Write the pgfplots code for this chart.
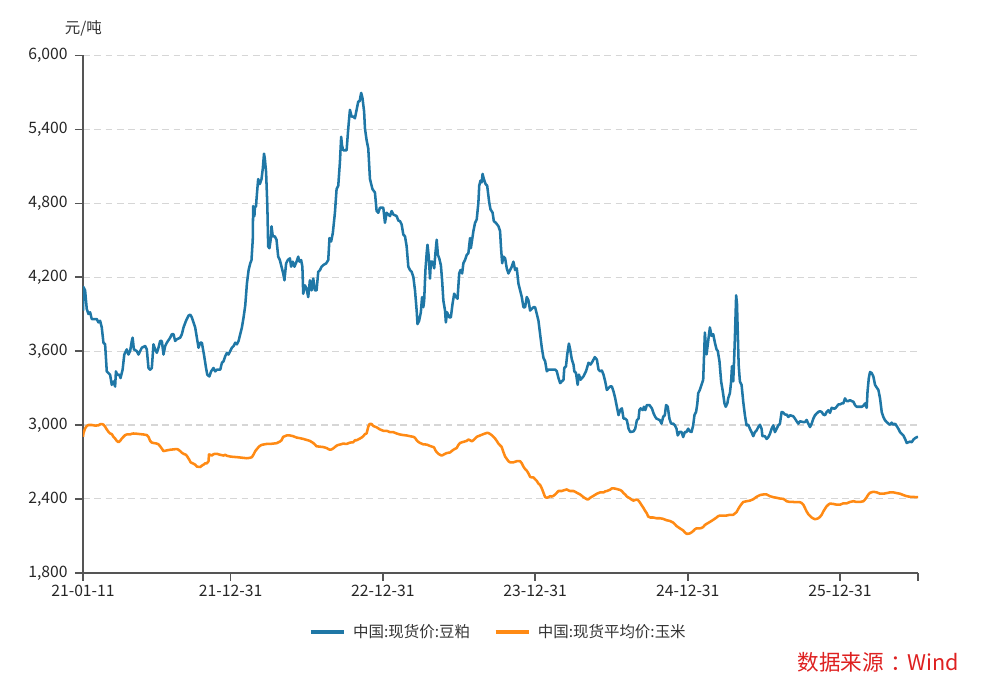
\documentclass[border=0pt]{standalone}
\usepackage{fontspec}
\setmainfont{Noto Sans CJK SC}
\usepackage{pgfplots}
\pgfplotsset{compat=1.18}
\definecolor{bluel}{HTML}{1F77A6}
\definecolor{orangel}{HTML}{FF8A14}
\definecolor{axgray}{HTML}{555555}
\definecolor{srcred}{HTML}{DE2020}
\begin{document}
\begin{tikzpicture}
\path[use as bounding box] (0,0) rectangle (750pt,519.75pt);
\begin{axis}[
 at={(62.25pt,90.15pt)}, anchor=south west,
 scale only axis, width=626.25pt, height=388pt,
 xmin=0, xmax=2002, ymin=1800, ymax=6000,
 axis x line*=bottom, axis y line*=left,
 axis line style={-, draw=axgray, line width=1.1pt},
 xtick={0,354,719,1084,1450,1815,2002},
 xticklabels={21-01-11,21-12-31,22-12-31,23-12-31,24-12-31,25-12-31,{}},
 ytick={1800,2400,...,6000},
 tick align=outside, major tick length=6pt,
 tick style={draw=axgray, line width=1.1pt},
 ymajorgrids,
 grid style={draw=black!16, line width=0.8pt, dash pattern=on 5pt off 3.5pt},
 /pgf/number format/fixed,
 /pgf/number format/1000 sep={,},
 /pgf/number format/assume math mode=true,
 ticklabel style={font=\fontsize{11.8}{13}\selectfont, text=black!85},
 yticklabel style={xshift=-2pt},
 legend style={at={(0.498,-0.1144)}, anchor=center, draw=none, fill=none,
   legend columns=2, font=\fontsize{11.6}{13}\selectfont, text=black!80,
   /tikz/every odd column/.append style={column sep=3.5pt},
   /tikz/every even column/.append style={column sep=16pt}},
 legend image code/.code={\draw[#1, line width=2.4pt] (0pt,0pt) -- (25pt,0pt);},
]
\addplot[bluel, line width=1.9pt, line join=round] coordinates {
(0,3929)(1,4120)(5,4093)(9,3942)(13,3901)(17,3915)(21,3860)(33,3860)(37,3833)(41,3846)(45,3792)(49,3668)(53,3655)(57,3435)(61,3422)(65,3408)(69,3326)(73,3353)(77,3312)(79,3435)(82,3408)(87,3408)(90,3381)(95,3449)(99,3572)(105,3614)(109,3572)(113,3600)(117,3682)(119,3709)(122,3614)(129,3600)(133,3572)(137,3600)(141,3627)(149,3641)(153,3614)(157,3463)(161,3449)(165,3463)(169,3655)(173,3614)(177,3586)(181,3627)(185,3682)(189,3682)(193,3572)(197,3641)(201,3668)(209,3709)(213,3737)(217,3737)(221,3682)(225,3696)(233,3709)(237,3737)(241,3792)(247,3846)(253,3888)(257,3896)(261,3874)(265,3833)(269,3792)(273,3709)(277,3627)(281,3668)(285,3668)(290,3572)(295,3463)(298,3408)(303,3394)(307,3435)(313,3463)(317,3435)(321,3449)(329,3449)(333,3504)(337,3518)(341,3559)(345,3586)(349,3572)(353,3600)(357,3627)(361,3641)(365,3668)(369,3655)(373,3682)
(377,3737)(381,3792)(385,3874)(389,3970)(393,4148)(397,4257)(401,4312)
(404,4339)(407,4504)(408,4778)(411,4696)(412,4764)(415,4778)(416,4833)(420,4997)(424,4956)(428,4997)(431,5079)(434,5203)(436,5161)(439,5052)(442,4778)(444,4449)(447,4435)(450,4504)(452,4613)(455,4531)(460,4531)(464,4504)(468,4367)(472,4339)(476,4285)(480,4230)(483,4175)(487,4312)(491,4339)(496,4353)(499,4285)(503,4326)(507,4285)(512,4326)(516,4367)(519,4326)(523,4339)(526,4285)(528,4065)(532,4134)(536,4107)(540,4038)(544,4175)(548,4093)(552,4189)(556,4093)(560,4093)(564,4243)(568,4257)(572,4285)(576,4298)(583,4312)(588,4339)(591,4518)(595,4490)(599,4559)(604,4723)(608,4915)(612,4942)(616,5134)(619,5340)(621,5271)(624,5230)(632,5230)(636,5408)(640,5559)(644,5504)(648,5504)(652,5490)(656,5559)(660,5627)(663,5627)(667,5696)(670,5655)(674,5545)(676,5408)(680,5312)(684,5244)(688,4997)(694,4915)(700,4887)(704,4737)(708,4723)(712,4764)(720,4764)(724,4641)(728,4723)(736,4696)(740,4737)(744,4709)(752,4696)(756,4660)
(760,4655)(764,4628)(768,4546)(772,4532)(776,4450)(780,4285)(784,4258)(788,4244)(792,4203)(796,4093)(800,3929)(802,3819)(806,3847)(810,3915)(813,4039)(816,3956)(818,4011)(821,4258)(824,4395)(826,4463)(829,4367)(832,4189)(834,4326)(838,4326)(842,4272)(845,4395)(848,4504)(851,4381)(854,4354)(858,4299)(861,4176)(864,4011)(868,3929)(870,3833)(873,3915)(878,3874)(882,3874)(886,3984)(890,4066)(894,4039)(898,4025)(902,4230)(905,4258)(909,4230)(912,4313)(916,4340)(920,4381)(924,4395)(928,4518)(930,4436)(933,4504)(936,4573)(940,4641)(944,4669)(948,4806)(950,4943)(953,4984)(956,4970)(958,5039)(961,4998)(965,4957)(969,4943)(972,4861)(974,4806)(977,4751)(982,4724)(985,4655)(990,4641)(996,4614)(1000,4573)(1002,4450)(1005,4313)(1008,4367)(1012,4354)(1016,4272)(1020,4230)(1024,4258)(1028,4285)(1032,4326)(1036,4258)(1040,4272)(1044,4148)(1048,4093)(1052,4039)(1056,3956)(1060,3956)(1064,4039)(1068,4011)(1072,3929)(1076,3943)(1080,3956)(1084,3956)(1088,3902)(1092,3847)(1096,3737)(1100,3628)(1104,3545)(1108,3518)(1112,3436)(1116,3450)(1124,3450)(1132,3450)(1136,3436)(1140,3381)
(1144,3340)(1148,3354)(1152,3367)(1154,3463)(1158,3477)(1161,3573)(1165,3661)(1168,3614)(1172,3532)(1176,3491)(1178,3436)(1182,3422)(1186,3326)(1189,3409)(1193,3368)(1200,3395)(1206,3436)(1212,3505)(1217,3491)(1222,3518)(1227,3551)(1232,3532)(1236,3450)(1240,3436)(1244,3442)(1248,3409)(1252,3354)(1256,3285)(1260,3299)(1264,3313)(1268,3313)(1272,3272)(1276,3217)(1280,3148)(1284,3080)(1288,3121)(1292,3135)(1296,3052)(1300,3052)(1304,3039)(1308,2970)(1312,2943)(1320,2948)(1324,2970)(1328,3039)(1332,3052)(1334,3121)(1337,3135)(1342,3121)(1345,3148)(1348,3121)(1352,3162)(1358,3162)(1364,3135)(1368,3094)(1372,3066)(1375,3052)(1383,3039)(1387,3011)(1391,3066)(1395,3080)(1398,3162)(1402,3148)(1406,3052)(1410,3011)(1415,3011)(1419,2998)(1423,2970)(1426,2915)(1430,2943)(1435,2943)(1439,2902)(1443,2943)(1447,2943)(1451,2970)(1455,2948)(1459,2943)(1463,2998)(1466,3080)(1470,3107)(1473,3176)(1475,3258)(1479,3285)(1483,3326)(1487,3368)(1491,3751)(1495,3573)(1499,3683)(1503,3792)(1507,3724)(1511,3737)(1515,3669)(1519,3614)(1522,3600)(1526,3518)(1530,3354)(1534,3272)(1538,3176)(1541,3148)(1545,3176)(1547,3217)(1551,3258)(1554,3354)(1556,3477)(1559,3354)(1561,3518)(1563,3710)(1566,4053)(1568,3984)
(1572,3490)(1575,3353)(1579,3326)(1583,3189)(1587,3079)(1591,2997)(1595,3002)(1599,2969)(1603,2942)(1607,2909)(1611,2942)(1615,2956)(1619,2983)(1623,3002)(1627,2969)(1629,2909)(1635,2909)(1639,2887)(1643,2901)(1647,2928)(1651,2969)(1655,2997)(1659,2942)(1663,2969)(1667,2997)(1671,3011)(1675,3106)(1679,3101)(1683,3085)(1687,3085)(1691,3065)(1695,3079)(1703,3071)(1707,3052)(1711,3030)(1715,3011)(1719,3030)(1727,3024)(1731,3024)(1735,3041)(1739,3011)(1743,2983)(1747,3011)(1751,3052)(1755,3079)(1759,3093)(1763,3106)(1767,3112)(1771,3106)(1775,3085)(1779,3079)(1783,3106)(1787,3120)(1791,3098)(1795,3139)(1799,3134)(1803,3134)(1807,3148)(1811,3167)(1815,3167)(1819,3175)(1823,3175)(1827,3216)(1831,3194)(1835,3194)(1839,3202)(1843,3194)(1847,3189)(1851,3161)(1855,3148)(1859,3148)(1867,3148)(1871,3156)(1875,3175)(1879,3139)(1881,3271)(1884,3380)(1887,3430)(1891,3422)(1895,3394)(1899,3326)(1903,3304)(1907,3285)(1911,3216)(1915,3106)(1919,3065)(1923,3038)(1927,3024)(1931,3011)(1935,3002)(1939,3019)(1943,3002)(1947,3011)(1951,2991)(1955,2969)(1959,2942)(1963,2928)(1967,2915)(1971,2887)(1975,2854)(1979,2860)(1983,2865)(1987,2860)(1991,2882)(1995,2893)(1999,2901)(2002,2905)
};
\addlegendentry{中国:现货价:豆粕}
\addplot[orangel, line width=1.9pt, line join=round] coordinates {
(0,2904)(1,2931)(5,2973)(9,2992)(13,3000)(21,3000)(29,2995)(37,2997)(41,3006)(45,3008)(49,3003)(53,2986)(57,2964)(61,2945)(65,2931)(69,2926)(73,2904)(77,2890)(81,2871)(85,2860)(89,2871)(93,2890)(97,2904)(101,2918)(105,2923)(113,2923)(117,2929)(121,2931)(129,2929)(137,2926)(145,2923)(153,2918)(157,2904)(161,2871)(165,2857)(169,2854)(177,2849)(181,2843)(185,2827)(189,2808)(193,2788)(197,2791)(201,2794)(209,2799)(217,2802)(225,2805)(229,2799)(233,2788)(237,2775)(241,2766)(247,2758)(250,2744)(255,2717)(258,2697)(263,2689)(269,2678)(273,2662)(281,2659)(285,2670)(289,2678)(293,2689)(297,2689)(301,2706)(302,2761)(305,2758)(309,2752)(313,2764)(321,2766)(329,2758)(337,2752)(341,2758)(345,2750)(353,2744)(361,2741)(369,2739)(377,2736)(385,2733)(392,2730)(400,2733)(405,2739)(409,2761)(413,2788)(417,2805)(421,2821)(424,2830)(428,2838)(432,2841)(440,2846)(448,2846)(456,2849)(464,2852)(472,2865)(476,2876)(480,2904)(484,2909)(488,2915)(496,2915)(504,2909)(512,2898)(520,2893)(528,2887)(536,2879)(544,2871)(552,2854)(556,2841)(560,2827)(568,2824)(576,2821)(584,2813)(588,2805)(592,2799)(596,2802)(600,2810)(604,2821)(608,2832)(612,2838)(616,2841)(624,2849)(632,2846)(640,2857)(648,2860)(652,2876)(656,2876)(664,2890)(668,2898)(672,2909)(676,2926)(680,2931)(684,2986)(687,3008)(692,3008)(696,2992)(704,2981)(712,2964)(720,2953)(728,2953)(736,2942)(744,2942)(752,2931)(760,2923)(768,2918)(776,2915)(784,2909)(792,2904)(796,2896)(800,2876)(804,2863)(808,2854)(816,2843)(824,2841)(832,2830)(840,2821)(842,2816)(845,2794)(848,2780)(852,2766)(856,2758)(860,2752)(864,2758)(868,2766)(872,2772)(880,2777)(888,2799)(896,2813)(900,2838)(904,2854)(912,2863)(920,2871)(924,2882)(928,2876)(932,2868)(936,2876)(940,2890)(944,2904)(952,2915)(960,2926)(964,2931)(970,2937)(974,2931)(980,2918)(984,2904)(988,2890)(992,2871)(996,2849)
(1000,2835)(1004,2821)(1008,2780)(1012,2744)(1016,2725)(1020,2706)(1024,2697)(1032,2697)(1040,2706)(1048,2706)(1052,2689)(1056,2662)(1060,2642)(1064,2629)(1068,2607)(1072,2579)(1076,2574)(1080,2574)(1084,2560)(1088,2546)(1092,2524)(1096,2513)(1100,2486)(1104,2450)(1108,2414)(1112,2409)(1116,2414)(1120,2422)(1124,2419)(1128,2425)(1132,2436)(1136,2450)(1140,2464)(1148,2464)(1152,2469)(1160,2477)(1164,2469)(1168,2464)(1176,2464)(1180,2458)(1184,2450)(1192,2436)(1200,2414)(1208,2397)(1212,2397)(1216,2409)(1224,2425)(1232,2442)(1240,2453)(1248,2453)(1252,2461)(1256,2464)(1264,2475)(1268,2486)(1272,2486)(1280,2480)(1288,2472)(1292,2464)(1296,2447)(1300,2436)(1304,2419)(1312,2403)(1316,2392)(1320,2386)(1324,2392)(1328,2395)(1332,2386)(1336,2367)(1340,2345)(1343,2331)(1347,2307)(1352,2282)(1355,2257)(1360,2249)(1367,2249)(1375,2243)(1383,2243)(1391,2238)(1399,2227)(1407,2221)(1415,2208)(1423,2180)(1431,2161)(1439,2144)(1443,2128)(1447,2117)(1451,2117)(1455,2120)(1459,2128)(1463,2139)(1467,2153)(1471,2161)(1479,2161)(1483,2164)(1487,2172)(1491,2188)(1495,2197)(1503,2213)(1511,2230)(1519,2249)(1523,2260)(1527,2265)(1543,2265)(1551,2271)(1559,2271)(1563,2282)(1567,2293)(1571,2318)(1575,2340)(1579,2359)(1583,2375)(1591,2381)(1599,2386)(1607,2397)(1615,2417)(1623,2431)(1631,2436)(1639,2436)(1647,2422)(1655,2414)(1663,2409)(1671,2403)(1679,2400)(1683,2392)(1687,2381)(1695,2375)(1703,2375)(1711,2373)(1719,2373)(1723,2367)(1727,2353)(1731,2326)(1735,2298)(1739,2276)(1743,2263)(1747,2249)(1751,2241)(1755,2235)(1759,2238)(1763,2243)(1767,2254)(1771,2271)(1775,2298)(1779,2320)(1783,2340)(1787,2353)(1791,2362)(1799,2359)(1807,2353)(1815,2353)(1823,2364)(1831,2364)(1839,2375)(1847,2381)(1855,2375)(1863,2375)(1871,2381)(1875,2395)(1879,2414)(1883,2436)(1887,2450)(1895,2458)(1903,2453)(1911,2442)(1919,2442)(1927,2447)(1935,2453)(1943,2453)(1951,2447)(1959,2442)(1967,2431)(1975,2422)(1983,2417)(1991,2417)(1995,2414)(2002,2414)
};
\addlegendentry{中国:现货平均价:玉米}
\end{axis}
\node[anchor=center, font=\fontsize{11.6}{13}\selectfont, text=black!80] at (62.6pt,498.75pt) {元/吨};
\node[anchor=east, font=\fontsize{16.2}{19}\selectfont, text=srcred] at (723pt,23.25pt) {数据来源\kern0.3em：\kern-0.2em Wind};
\end{tikzpicture}
\end{document}
